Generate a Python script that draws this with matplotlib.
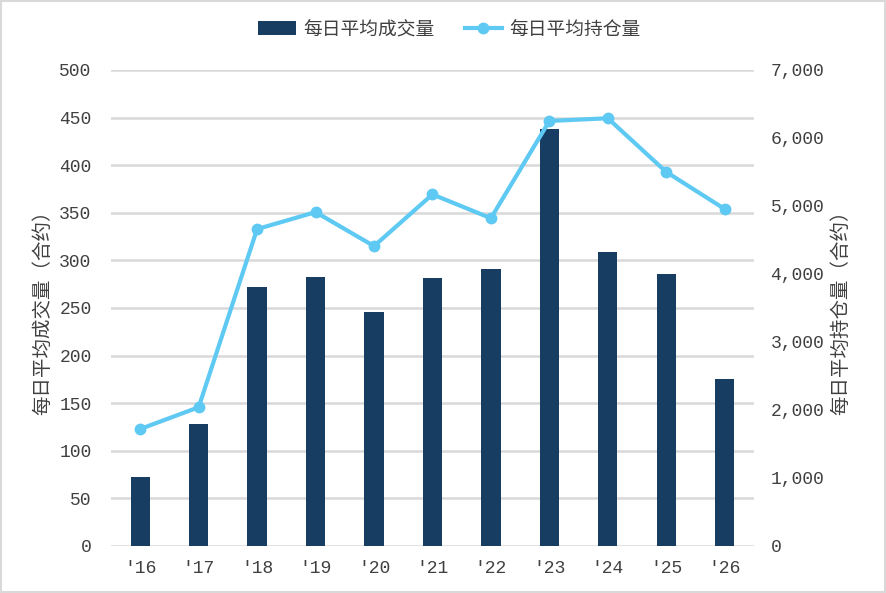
import numpy as np
import matplotlib.pyplot as plt
from matplotlib.patches import Rectangle
from matplotlib.ticker import FuncFormatter

plt.rcParams['font.family'] = ['Noto Sans CJK SC', 'DejaVu Sans']

years = ["'16", "'17", "'18", "'19", "'20", "'21", "'22", "'23", "'24", "'25", "'26"]
volume = [72, 128, 272, 283, 246, 281, 291, 438, 309, 286, 175]
open_interest = [1720, 2040, 4660, 4910, 4410, 5170, 4820, 6250, 6290, 5500, 4955]

bar_color = '#173d63'
line_color = '#5ec9f2'
grid_color = '#d9d9d9'
tick_font = 'Liberation Mono'

fig = plt.figure(figsize=(8.87, 5.93), dpi=100)
ax = fig.add_axes([0.1251, 0.0793, 0.7249, 0.8027])
ax2 = ax.twinx()

x = np.arange(len(years))
ax.bar(x, volume, width=0.33, color=bar_color, label='每日平均成交量', zorder=2)
ax2.plot(x, open_interest, color=line_color, lw=3, marker='o', ms=7.5,
         label='每日平均持仓量', zorder=3)

ax.set_xlim(-0.5, len(years) - 0.5)
ax.set_ylim(0, 500)
ax.set_yticks(np.arange(0, 501, 50))
ax2.set_ylim(0, 7000)
ax2.set_yticks(np.arange(0, 7001, 1000))
ax2.yaxis.set_major_formatter(FuncFormatter(lambda v, p: f'{int(v):,}'))

ax.set_xticks(x)
ax.set_xticklabels(years)
ax.grid(axis='y', color=grid_color, lw=1.8, zorder=0)
ax.set_axisbelow(True)

for a in (ax, ax2):
    for s in a.spines.values():
        s.set_visible(False)
    a.tick_params(length=0, labelsize=13, colors='#404040')
    for lab in a.get_xticklabels() + a.get_yticklabels():
        lab.set_family(tick_font)

ax.tick_params(axis='y', pad=14)
ax.tick_params(axis='x', pad=10)
ax2.tick_params(axis='y', pad=12)

ax.set_ylabel('每日平均成交量（合约）', fontsize=14, color='#404040', labelpad=4)
ax2.set_ylabel('每日平均持仓量（合约）', fontsize=14, color='#404040', labelpad=4)

h1, l1 = ax.get_legend_handles_labels()
h2, l2 = ax2.get_legend_handles_labels()
fig.legend(h1 + h2, l1 + l2, loc='center', bbox_to_anchor=(0.507, 0.951), ncol=2,
           frameon=False, fontsize=13.5, handlelength=2.0, handletextpad=0.4,
           columnspacing=1.6, labelcolor='#404040')

fig.patches.append(Rectangle((0.001, 0.001), 0.997, 0.997, transform=fig.transFigure,
                             fill=False, edgecolor='#d9d9d9', lw=1.5))

fig.savefig('out.png', dpi=100)
